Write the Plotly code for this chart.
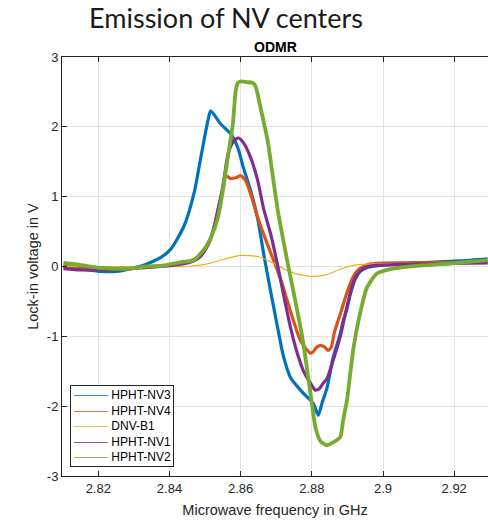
import plotly.graph_objects as go

# ---- data ----
f_nv3 = [2.8102, 2.8152, 2.8208, 2.8250, 2.8292, 2.8334, 2.8348, 2.8376, 2.8404, 2.8441,
         2.8469, 2.8488, 2.8508, 2.8516, 2.8544, 2.8572, 2.8592, 2.8608, 2.8628, 2.8648,
         2.8664, 2.8684, 2.8703, 2.8720, 2.8740, 2.8768, 2.8787, 2.8804, 2.8818, 2.8829,
         2.8843, 2.8860, 2.8880, 2.8888, 2.8899, 2.8908, 2.8922, 2.8936, 2.8958, 2.8983,
         2.9048, 2.9131, 2.9215, 2.9294]
v_nv3 = [0.00, -0.03, -0.07, -0.07, -0.03, 0.03, 0.06, 0.13, 0.25, 0.58,
         1.05, 1.56, 2.09, 2.23, 2.04, 1.90, 1.70, 1.41, 1.09, 0.68,
         0.20, -0.35, -0.85, -1.28, -1.59, -1.77, -1.87, -1.96, -2.13, -1.95,
         -1.73, -1.30, -0.96, -0.78, -0.60, -0.40, -0.18, -0.07, -0.01, 0.01,
         0.04, 0.06, 0.08, 0.11]

f_nv4 = [2.8102, 2.8208, 2.8292, 2.8376, 2.8441, 2.8469, 2.8488, 2.8502, 2.8516, 2.8527,
         2.8538, 2.8550, 2.8558, 2.8572, 2.8586, 2.8600, 2.8614, 2.8628, 2.8648, 2.8664,
         2.8684, 2.8703, 2.8720, 2.8731, 2.8748, 2.8768, 2.8787, 2.8796, 2.8804, 2.8813,
         2.8824, 2.8835, 2.8846, 2.8855, 2.8863, 2.8880, 2.8899, 2.8916, 2.8930, 2.8958,
         2.9000, 2.9294]
v_nv4 = [0.00, -0.02, -0.02, 0.01, 0.05, 0.10, 0.17, 0.27, 0.41, 0.60,
         0.85, 1.10, 1.30, 1.26, 1.27, 1.30, 1.23, 1.04, 0.70, 0.47,
         0.20, -0.05, -0.30, -0.49, -0.77, -1.06, -1.20, -1.24, -1.22, -1.16,
         -1.13, -1.15, -1.20, -1.15, -0.95, -0.68, -0.37, -0.15, -0.05, 0.03,
         0.05, 0.06]

f_b1 = [2.8102, 2.8300, 2.8450, 2.8500, 2.8550, 2.8600, 2.8650, 2.8680, 2.8720, 2.8760,
        2.8800, 2.8840, 2.8880, 2.8920, 2.9000, 2.9294]
v_b1 = [0.00, 0.00, 0.00, 0.03, 0.10, 0.16, 0.14, 0.08, -0.03, -0.11,
        -0.14, -0.12, -0.04, 0.02, 0.04, 0.04]

f_nv1 = [2.8102, 2.8152, 2.8208, 2.8292, 2.8376, 2.8441, 2.8469, 2.8488, 2.8502, 2.8516,
         2.8527, 2.8538, 2.8550, 2.8564, 2.8572, 2.8580, 2.8594, 2.8608, 2.8628, 2.8648,
         2.8664, 2.8684, 2.8703, 2.8720, 2.8740, 2.8759, 2.8776, 2.8796, 2.8810, 2.8821,
         2.8832, 2.8843, 2.8860, 2.8880, 2.8894, 2.8908, 2.8922, 2.8941, 2.8969, 2.9048,
         2.9294]
v_nv1 = [-0.03, -0.05, -0.05, -0.03, 0.00, 0.04, 0.08, 0.15, 0.25, 0.40,
         0.60, 0.85, 1.15, 1.60, 1.72, 1.80, 1.84, 1.77, 1.56, 1.23,
         0.84, 0.47, 0.04, -0.39, -0.87, -1.24, -1.49, -1.67, -1.77, -1.75,
         -1.67, -1.60, -1.34, -1.00, -0.68, -0.38, -0.16, -0.04, 0.01, 0.03,
         0.05]

f_nv2 = [2.8102, 2.8152, 2.8208, 2.8284, 2.8334, 2.8376, 2.8441, 2.8469, 2.8488, 2.8502,
         2.8516, 2.8536, 2.8550, 2.8564, 2.8578, 2.8586, 2.8592, 2.8603, 2.8617, 2.8634,
         2.8642, 2.8656, 2.8676, 2.8692, 2.8706, 2.8720, 2.8734, 2.8759, 2.8776, 2.8796,
         2.8810, 2.8824, 2.8843, 2.8860, 2.8880, 2.8888, 2.8899, 2.8908, 2.8916, 2.8930,
         2.8944, 2.8955, 2.8983, 2.9028, 2.9095, 2.9187, 2.9294]
v_nv2 = [0.05, 0.02, -0.02, -0.03, 0.00, 0.01, 0.07, 0.09, 0.19, 0.28,
         0.41, 0.70, 1.09, 1.56, 2.04, 2.51, 2.63, 2.65, 2.64, 2.63,
         2.58, 2.27, 1.80, 1.23, 0.75, 0.37, 0.00, -0.63, -1.10, -1.81,
         -2.30, -2.50, -2.56, -2.52, -2.44, -2.20, -1.91, -1.53, -1.20, -0.80,
         -0.49, -0.30, -0.10, -0.03, 0.01, 0.04, 0.09]

x_ticks = [2.82, 2.84, 2.86, 2.88, 2.90, 2.92]
x_tick_labels = ["2.82", "2.84", "2.86", "2.88", "2.9", "2.92"]
y_ticks = [-3, -2, -1, 0, 1, 2, 3]
y_tick_labels = ["-3", "-2", "-1", "0", "1", "2", "3"]

series_names = ["HPHT-NV3", "HPHT-NV4", "DNV-B1", "HPHT-NV1", "HPHT-NV2"]
series_f = [f_nv3, f_nv4, f_b1, f_nv1, f_nv2]
series_v = [v_nv3, v_nv4, v_b1, v_nv1, v_nv2]
series_colors = ["#0072BD", "#D95319", "#EDB120", "#7E2F8E", "#77AC30"]
series_widths = [3.2, 3.2, 1.2, 3.2, 3.8]

fig = go.Figure()
for name, fx, vy, col, w in zip(series_names, series_f, series_v, series_colors, series_widths):
    fig.add_trace(go.Scatter(x=fx, y=vy, mode="lines", name=name, showlegend=False,
                             line=dict(color=col, width=w, shape="spline", smoothing=0.6)))

# legend box (MATLAB style, thin sample lines, compact rows)
legend_lines = [f'<span style="color:{c}">\u2500\u2500\u2500\u2500</span> {n}'
                for n, c in zip(series_names, series_colors)]

axis_col = "#262626"
fig.update_layout(
    width=488, height=521,
    margin=dict(l=62, r=0, t=57, b=45),
    paper_bgcolor="white", plot_bgcolor="white",
    font=dict(family="Liberation Sans, Arial", size=13, color=axis_col),
    title=dict(text="Emission of NV centers", xref="container", yref="container",
               x=226 / 488, y=1 - 19 / 521, xanchor="center", yanchor="middle",
               font=dict(family="Lato", size=27, color="#1a1a1a")),
    showlegend=False,
    annotations=[
        dict(text="<b>ODMR</b>", xref="paper", yref="paper", x=0.5, y=1,
             xanchor="center", yanchor="bottom", yshift=0, showarrow=False,
             font=dict(size=14, color="black")),
        dict(text="<br>".join(legend_lines), xref="paper", yref="paper",
             x=0.0188, y=0.0215, xanchor="left", yanchor="bottom", align="left",
             showarrow=False, bgcolor="white", bordercolor=axis_col, borderwidth=1,
             borderpad=2, font=dict(family="Liberation Sans, Arial", size=12, color="black")),
    ],
)
fig.update_xaxes(range=[2.8098, 2.9295], tickvals=x_ticks, ticktext=x_tick_labels,
                 ticks="inside", ticklen=5, tickcolor=axis_col, showline=True,
                 linecolor=axis_col, linewidth=1, mirror="ticks", showgrid=True,
                 gridcolor="#e3e3e3", zeroline=False,
                 title=dict(text="Microwave frequency in GHz", font=dict(size=14.5), standoff=10),
                 automargin=False)
fig.update_yaxes(range=[-3, 3], tickvals=y_ticks, ticktext=y_tick_labels, ticks="inside",
                 ticklen=5, tickcolor=axis_col, showline=True, linecolor=axis_col, linewidth=1,
                 showgrid=True, gridcolor="#e3e3e3", zeroline=False,
                 title=dict(text="Lock-in voltage in V", font=dict(size=14.5), standoff=4),
                 automargin=False)

fig.write_html("out.html")
